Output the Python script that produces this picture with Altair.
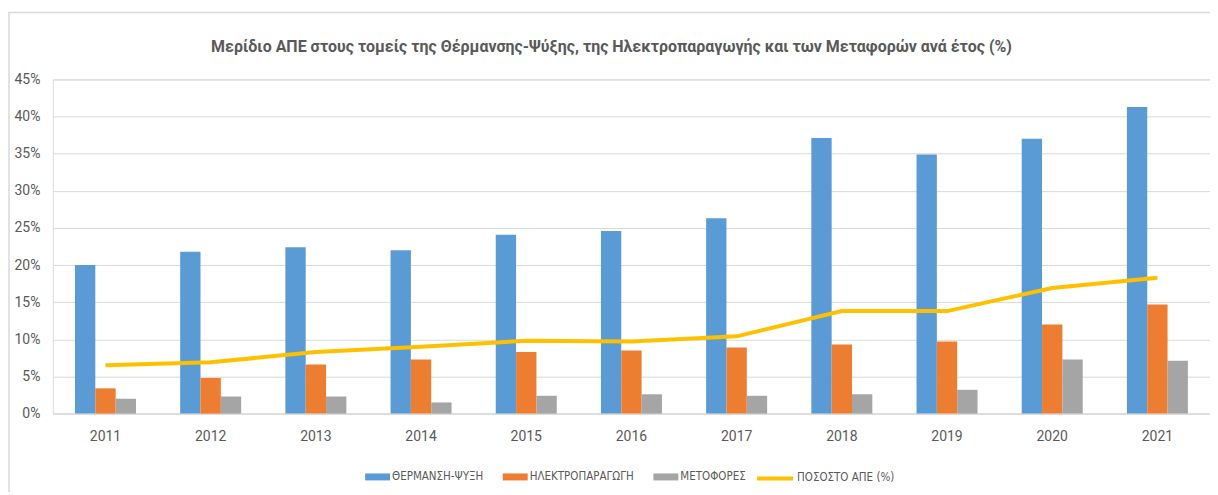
import altair as alt
import pandas as pd

years = ["2011", "2012", "2013", "2014", "2015", "2016", "2017", "2018", "2019", "2020", "2021"]
heating = [20.0, 21.8, 22.4, 22.0, 24.1, 24.6, 26.3, 37.1, 34.9, 37.0, 41.3]
electricity = [3.4, 4.8, 6.6, 7.3, 8.3, 8.5, 8.9, 9.3, 9.7, 12.0, 14.7]
transport = [2.0, 2.3, 2.3, 1.5, 2.4, 2.6, 2.4, 2.6, 3.2, 7.3, 7.1]
res_share = [6.5, 6.9, 8.3, 9.0, 9.8, 9.7, 10.4, 13.8, 13.8, 16.9, 18.3]

bar_series = ["ΘΕΡΜΑΝΣΗ-ΨΥΞΗ", "ΗΛΕΚΤΡΟΠΑΡΑΓΩΓΗ", "ΜΕΤΟΦΟΡΕΣ"]
bar_colors = ["#5B9BD5", "#ED7D31", "#A5A5A5"]
line_series = ["ΠΟΣΟΣΤΟ ΑΠΕ (%)"]
line_colors = ["#FFC000"]
y_ticks = [0, 5, 10, 15, 20, 25, 30, 35, 40, 45]

title_text = "Μερίδιο ΑΠΕ στους τομείς της Θέρμανσης-Ψύξης, της Ηλεκτροπαραγωγής και των Μεταφορών ανά έτος (%)"

FONT = "Liberation Sans Narrow, DejaVu Sans Condensed, DejaVu Sans, sans-serif"
AXFONT = "Roboto, sans-serif"
TXT = "#595959"

rows = []
for name, vals in zip(bar_series, [heating, electricity, transport]):
    for y, v in zip(years, vals):
        rows.append({"year": y, "series": name, "value": v})
bars_df = pd.DataFrame(rows)
line_df = pd.DataFrame({"year": years, "series": line_series[0], "value": res_share})

bar_legend = alt.Legend(
    title=None,
    orient="none",
    direction="horizontal",
    legendX=313,
    legendY=386,
    labelFont=FONT,
    labelFontSize=11.5,
    labelColor=TXT,
    columnPadding=19,
    labelOffset=2,
    symbolSize=625,
    symbolType="M-1,-0.28L1,-0.28L1,0.28L-1,0.28Z",
    symbolStrokeWidth=0,
    padding=0,
)

line_legend = alt.Legend(
    title=None,
    orient="none",
    direction="horizontal",
    legendX=704,
    legendY=380,
    labelFont=FONT,
    labelFontSize=11.5,
    labelColor=TXT,
    labelOffset=2,
    symbolSize=1296,
    symbolType="stroke",
    symbolStrokeWidth=4,
    padding=0,
)


def x_enc():
    return alt.X(
        "year:N",
        sort=years,
        title=None,
        scale=alt.Scale(paddingInner=0.42, paddingOuter=0.21),
        axis=alt.Axis(
            labelAngle=0,
            labelFont=AXFONT,
            labelFontSize=14,
            labelColor=TXT,
            labelPadding=16,
            ticks=False,
            domain=True,
            domainColor="#D9D9D9",
            domainWidth=1,
            grid=False,
        ),
    )


def y_enc():
    return alt.Y(
        "value:Q",
        title=None,
        scale=alt.Scale(domain=[0, 45], nice=False),
        axis=alt.Axis(
            values=y_ticks,
            labelExpr="datum.value + '%'",
            labelFont=AXFONT,
            labelFontSize=14,
            labelColor=TXT,
            labelPadding=13,
            labelOverlap=False,
            ticks=False,
            domain=False,
            grid=True,
            gridColor="#D9D9D9",
            gridWidth=1,
        ),
    )


bars = alt.Chart(bars_df).mark_bar().encode(
    x=x_enc(),
    xOffset=alt.XOffset("series:N", sort=bar_series, scale=alt.Scale(paddingInner=0, paddingOuter=0)),
    y=y_enc(),
    color=alt.Color("series:N", scale=alt.Scale(domain=bar_series, range=bar_colors), legend=bar_legend),
)

line = alt.Chart(line_df).mark_line(strokeWidth=4).encode(
    x=x_enc(),
    y=y_enc(),
    stroke=alt.Stroke("series:N", scale=alt.Scale(domain=line_series, range=line_colors), legend=line_legend),
)

frame = alt.Chart(pd.DataFrame({"k": [0]})).mark_rect(
    fill="transparent", stroke="#D9D9D9", strokeWidth=1.5
).encode(
    x=alt.value(-44),
    x2=alt.value(1200),
    y=alt.value(-67),
    y2=alt.value(460),
)

title = alt.Chart(pd.DataFrame({"t": [title_text]})).mark_text(
    font=AXFONT, fontSize=16, fontWeight="bold", color=TXT, align="center", baseline="middle"
).encode(
    text="t:N",
    x=alt.value(560),
    y=alt.value(-32),
)

chart = alt.layer(frame, bars, line, title).properties(
    width=1160,
    height=335,
    autosize=alt.AutoSizeParams(type="none"),
    padding={"left": 45, "top": 71, "right": 0, "bottom": 78},
).configure_view(stroke="transparent", strokeWidth=0).configure(background="white")

chart.save("out.html", embed_options={"renderer": "svg", "actions": False})
